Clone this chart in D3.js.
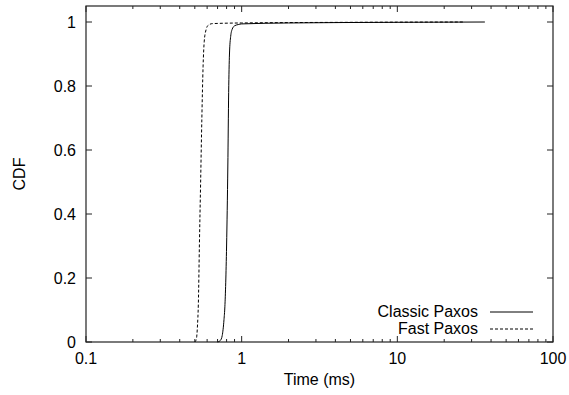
<!DOCTYPE html>
<html>
<head>
<meta charset="utf-8">
<script src="https://cdn.jsdelivr.net/npm/d3@7"></script>
<style>
  body { margin: 0; background: #fff; }
  svg { display: block; font-family: "Liberation Sans", Arial, sans-serif; }
</style>
</head>
<body>
<svg id="chart" width="569" height="395"></svg>
<script>
// latency CDF (ms, fraction)
const classicTime = [0.70, 0.73, 0.75, 0.77, 0.78, 0.80, 0.815, 0.825, 0.835, 0.85, 0.87, 0.90, 0.95, 1.0, 2, 10, 36.5];
const classicCdf  = [0, 0.005, 0.02, 0.07, 0.11, 0.3, 0.55, 0.78, 0.9, 0.955, 0.978, 0.988, 0.992, 0.994, 0.997, 0.999, 1];
const fastTime = [0.50, 0.512, 0.52, 0.527, 0.535, 0.545, 0.555, 0.565, 0.575, 0.59, 0.61, 0.65, 1, 5, 27];
const fastCdf  = [0, 0.01, 0.05, 0.12, 0.3, 0.5, 0.7, 0.86, 0.94, 0.975, 0.99, 0.995, 0.997, 0.999, 1];

const xTicks = [0.1, 1, 10, 100];
const xTickLabels = ['0.1', '1', '10', '100'];
const yTicks = [0, 0.2, 0.4, 0.6, 0.8, 1];
const yTickLabels = ['0', '0.2', '0.4', '0.6', '0.8', '1'];

const seriesNames = ['Classic Paxos', 'Fast Paxos'];

const svg = d3.select('#chart');
const margin = { top: 6, right: 16, bottom: 53, left: 86 };
const W = 569, H = 395;
const iw = W - margin.left - margin.right;
const ih = H - margin.top - margin.bottom;
const fs = 16;

const x = d3.scaleLog().domain([0.1, 100]).range([0, iw]);
const y = d3.scaleLinear().domain([0, 1.05]).range([ih, 0]);

const g = svg.append('g').attr('transform', `translate(${margin.left},${margin.top})`);

// minor ticks for log axis (2..9 in each decade)
const minor = [];
[0.1, 1, 10].forEach(d => { for (let k = 2; k <= 9; k++) minor.push(d * k); });

const tickCol = '#222';
// bottom + top ticks, pointing inward
g.selectAll('.xmaj').data(xTicks).enter().append('line')
  .attr('x1', d => x(d)).attr('x2', d => x(d))
  .attr('y1', ih).attr('y2', ih - 6).attr('stroke', tickCol);
g.selectAll('.xmajt').data(xTicks).enter().append('line')
  .attr('x1', d => x(d)).attr('x2', d => x(d))
  .attr('y1', 0).attr('y2', 6).attr('stroke', tickCol);
g.selectAll('.xmin').data(minor).enter().append('line')
  .attr('x1', d => x(d)).attr('x2', d => x(d))
  .attr('y1', ih).attr('y2', ih - 3).attr('stroke', tickCol);
g.selectAll('.xmint').data(minor).enter().append('line')
  .attr('x1', d => x(d)).attr('x2', d => x(d))
  .attr('y1', 0).attr('y2', 3).attr('stroke', tickCol);

// left + right y ticks
g.selectAll('.yl').data(yTicks).enter().append('line')
  .attr('x1', 0).attr('x2', 6)
  .attr('y1', d => y(d)).attr('y2', d => y(d)).attr('stroke', tickCol);
g.selectAll('.yr').data(yTicks).enter().append('line')
  .attr('x1', iw).attr('x2', iw - 6)
  .attr('y1', d => y(d)).attr('y2', d => y(d)).attr('stroke', tickCol);

// frame
g.append('rect').attr('x', 0).attr('y', 0).attr('width', iw).attr('height', ih)
  .attr('fill', 'none').attr('stroke', tickCol).attr('stroke-width', 1.2);

// tick labels
g.selectAll('.xl').data(xTicks).enter().append('text')
  .attr('x', d => x(d)).attr('y', ih + 22)
  .attr('text-anchor', 'middle').attr('font-size', fs)
  .text((d, i) => xTickLabels[i]);
g.selectAll('.ylab').data(yTicks).enter().append('text')
  .attr('x', -10).attr('y', d => y(d) + 6)
  .attr('text-anchor', 'end').attr('font-size', fs)
  .text((d, i) => yTickLabels[i]);

// axis titles
svg.append('text')
  .attr('x', margin.left + iw / 2).attr('y', 385)
  .attr('text-anchor', 'middle').attr('font-size', fs)
  .text('Time (ms)');
svg.append('text')
  .attr('transform', `translate(25, ${margin.top + ih / 2}) rotate(-90)`)
  .attr('text-anchor', 'middle').attr('font-size', fs)
  .text('CDF');

// curves
const line = d3.line().x(d => x(d[0])).y(d => y(d[1])).curve(d3.curveMonotoneX);
const classic = classicTime.map((t, i) => [t, classicCdf[i]]);
const fast = fastTime.map((t, i) => [t, fastCdf[i]]);

g.append('path').datum(fast).attr('d', line)
  .attr('fill', 'none').attr('stroke', '#000').attr('stroke-width', 1)
  .attr('stroke-dasharray', '3,2');
g.append('path').datum(classic).attr('d', line)
  .attr('fill', 'none').attr('stroke', '#000').attr('stroke-width', 1);

// legend
const legend = g.append('g');
const dashes = [null, '3,2'];
seriesNames.forEach((name, i) => {
  const ly = ih - 30 + i * 17;
  legend.append('text')
    .attr('x', iw - 75).attr('y', ly + 5)
    .attr('text-anchor', 'end').attr('font-size', fs)
    .text(name);
  legend.append('line')
    .attr('x1', iw - 63).attr('x2', iw - 20)
    .attr('y1', ly).attr('y2', ly)
    .attr('stroke', '#000').attr('stroke-width', 1)
    .attr('stroke-dasharray', dashes[i]);
});
</script>
</body>
</html>
